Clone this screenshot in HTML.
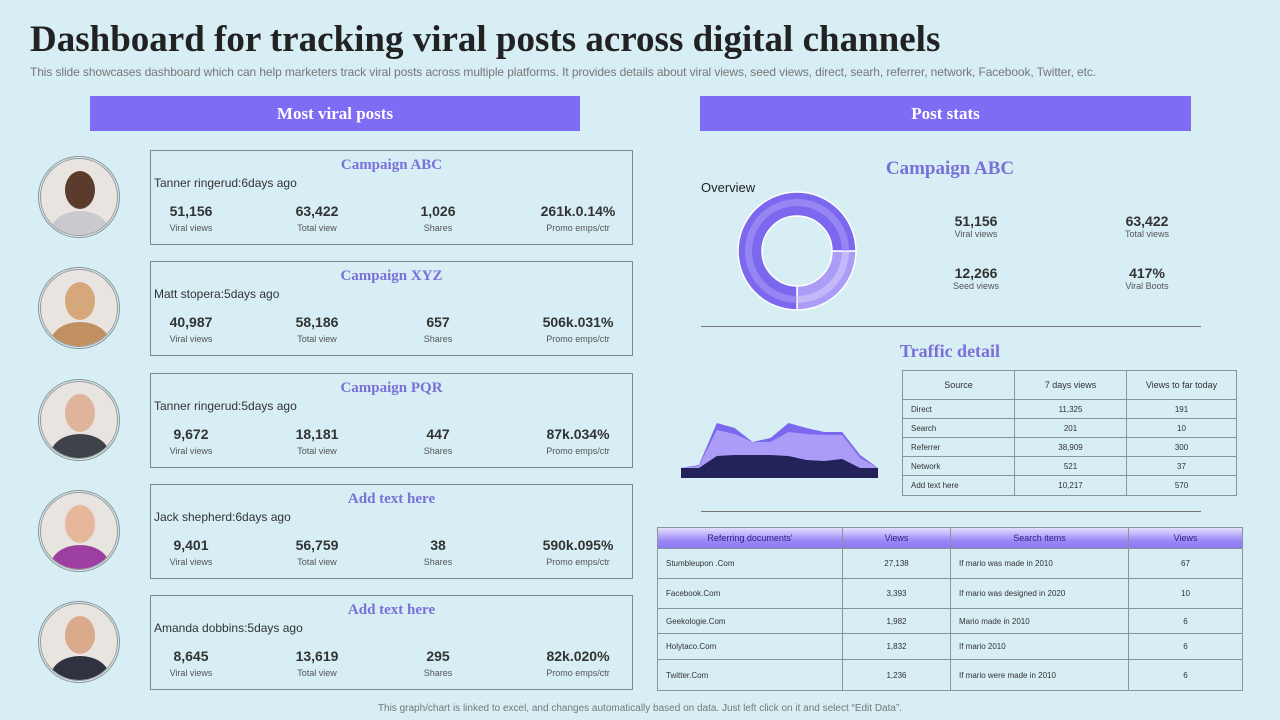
<!DOCTYPE html>
<html><head><meta charset="utf-8"><style>
body{margin:0;width:1280px;height:720px;background:#d6eef4;font-family:"Liberation Sans",sans-serif;position:relative;overflow:hidden;color:#333}
.a{position:absolute}
.hdr{background:#7f6cf5;color:#fff;font-family:"Liberation Serif",serif;font-weight:bold;font-size:17px;text-align:center;line-height:35px;height:35px}
.card{border:1px solid #7a8a8e;width:481px;height:93px}
.ct{position:absolute;left:0;right:0;top:6px;text-align:center;font-family:"Liberation Serif",serif;font-weight:bold;font-size:15px;color:#7b6fd8}
.nm{position:absolute;left:3px;top:25px;font-size:12px;color:#333}
.st{position:absolute;top:53px;width:120px;margin-left:-60px;text-align:center;line-height:15px}
.st b{display:block;font-size:14px;color:#333}
.st span{font-size:9px;color:#555}
.av{position:absolute;left:40px;width:78px;height:78px;border-radius:50%;overflow:hidden;background:#e8e4e0;border:1px solid #999;box-sizing:border-box}
.ring{position:absolute;left:38px;width:82px;height:82px;border-radius:50%;border:1px solid #8a9599;box-sizing:border-box}
table{border-collapse:collapse;position:absolute;font-size:8px;color:#333}
td{border:1px solid #8a9599;padding:0 0 0 8px}
td.c{text-align:center;padding:0}
.big{position:absolute;width:120px;margin-left:-60px;text-align:center;font-size:9px;color:#555}
.big b{display:block;font-size:14px;color:#333}
</style></head><body>
<div class="a" style="left:30px;top:18px;font-family:'Liberation Serif',serif;font-weight:bold;font-size:37px;color:#222">Dashboard for tracking viral posts across digital channels</div>
<div class="a" style="left:30px;top:65px;font-size:12px;color:#777;letter-spacing:-0.1px">This slide showcases dashboard which can help marketers track viral posts across multiple platforms. It provides details about viral views, seed views, direct, searh, referrer, network,  Facebook, Twitter, etc.</div>
<div class="a hdr" style="left:90px;top:96px;width:490px">Most viral posts</div>
<div class="a hdr" style="left:700px;top:96px;width:491px">Post stats</div>
<div id="cards"></div>

<div class="a" style="left:850px;top:158px;width:200px;text-align:center;font-family:'Liberation Serif',serif;font-weight:bold;font-size:19px;color:#7b6fd8">Campaign ABC</div>
<div class="a" style="left:701px;top:180px;font-size:13px;color:#222">Overview</div>
<svg class="a" style="left:730px;top:185px" width="135" height="135" id="donut"></svg>
<div class="big" style="left:976px;top:213px"><b>51,156</b>Viral views</div>
<div class="big" style="left:1147px;top:213px"><b>63,422</b>Total views</div>
<div class="big" style="left:976px;top:265px"><b>12,266</b>Seed views</div>
<div class="big" style="left:1147px;top:265px"><b>417%</b>Viral Boots</div>
<div class="a" style="left:701px;top:326px;width:500px;height:1px;background:#777"></div>
<div class="a" style="left:850px;top:341px;width:200px;text-align:center;font-family:'Liberation Serif',serif;font-weight:bold;font-size:18px;color:#7b6fd8">Traffic detail</div>
<svg class="a" style="left:670px;top:400px" width="220" height="90" id="area"></svg>
<table style="left:902px;top:370px;width:335px">
<tr style="height:29px"><td class="c" style="width:111px;font-size:9px">Source</td><td class="c" style="width:111px;font-size:9px">7 days views</td><td class="c" style="font-size:9px">Views to far today</td></tr>
<tr style="height:19px"><td>Direct</td><td class="c">11,325</td><td class="c">191</td></tr>
<tr style="height:19px"><td>Search</td><td class="c">201</td><td class="c">10</td></tr>
<tr style="height:19px"><td>Referrer</td><td class="c">38,909</td><td class="c">300</td></tr>
<tr style="height:19px"><td>Network</td><td class="c">521</td><td class="c">37</td></tr>
<tr style="height:20px"><td>Add text here</td><td class="c">10,217</td><td class="c">570</td></tr>
</table>
<div class="a" style="left:701px;top:511px;width:500px;height:1px;background:#777"></div>
<table style="left:657px;top:527px;width:586px">
<tr style="height:21px;background:linear-gradient(#e4defc,#9b88f7 60%,#8a76f2);color:#2a1f8a;font-size:9px"><td class="c" style="width:184px">Referring documents'</td><td class="c" style="width:107px">Views</td><td class="c" style="width:177px">Search items</td><td class="c">Views</td></tr>
<tr style="height:30px"><td>Stumbleupon .Com</td><td class="c">27,138</td><td>If mario was made  in 2010</td><td class="c">67</td></tr>
<tr style="height:30px"><td>Facebook.Com</td><td class="c">3,393</td><td>If mario was designed  in 2020</td><td class="c">10</td></tr>
<tr style="height:25px"><td>Geekologie.Com</td><td class="c">1,982</td><td>Mario made  in 2010</td><td class="c">6</td></tr>
<tr style="height:26px"><td>Holytaco.Com</td><td class="c">1,832</td><td>If mario 2010</td><td class="c">6</td></tr>
<tr style="height:31px"><td>Twitter.Com</td><td class="c">1,236</td><td>If mario were made  in 2010</td><td class="c">6</td></tr>
</table>
<div class="a" style="left:0;width:1280px;top:703px;text-align:center;font-size:10px;color:#777">This graph/chart is linked to excel, and changes automatically based on data. Just left click on it and select “Edit Data”.</div>

<script>
const posts=[
 ["Campaign ABC","Tanner ringerud:6days ago","51,156","63,422","1,026","261k.0.14%"],
 ["Campaign XYZ","Matt stopera:5days ago","40,987","58,186","657","506k.031%"],
 ["Campaign PQR","Tanner ringerud:5days ago","9,672","18,181","447","87k.034%"],
 ["Add text here","Jack shepherd:6days ago","9,401","56,759","38","590k.095%"],
 ["Add text here","Amanda dobbins:5days ago","8,645","13,619","295","82k.020%"]];
const statLabels=["Viral views","Total view","Shares","Promo emps/ctr"];
const colX=[40,166,287,427];
const avColors=[["#5a3b2c","#c9c9cf"],["#d7a77c","#c28f60"],["#e0b49a","#40424a"],["#e6b79a","#9d3fa0"],["#d9ab8c","#2f3340"]];
const wrap=document.getElementById('cards');
posts.forEach((p,i)=>{
  const top=150+i*111.3;
  const c=document.createElement('div');
  c.className='a card';c.style.left='150px';c.style.top=top+'px';
  
  
  let h='<div class="ct">'+p[0]+'</div><div class="nm">'+p[1]+'</div>';
  for(let k=0;k<4;k++)h+='<div class="st" style="left:'+colX[k]+'px"><b>'+p[2+k]+'</b><span>'+statLabels[k]+'</span></div>';
  c.innerHTML=h;wrap.appendChild(c);
  const r=document.createElement('div');r.className='ring';r.style.top=(top+6)+'px';
  
  
  wrap.appendChild(r);
  const a=document.createElement('div');a.className='av';a.style.top=(top+8)+'px';
  
  
  a.innerHTML='<div style="position:absolute;left:24px;top:12px;width:30px;height:38px;border-radius:50%;background:'+avColors[i][0]+'"></div><div style="position:absolute;left:10px;top:52px;width:58px;height:40px;border-radius:50% 50% 0 0;background:'+avColors[i][1]+'"></div>';
  wrap.appendChild(a);
});

// donut
const donutValues=[75,25];
const donutColors=["#7b68ee","#ab9cf7"];
const donutInner=["#9686f4","#c3b8fa"];
const ds=document.getElementById('donut');
const cx=67,cy=66,R=59,r=35;
function arc(a0,a1,ro,ri){
  const p=(a,rr)=>[cx+rr*Math.cos(a),cy+rr*Math.sin(a)];
  const lg=(a1-a0)>Math.PI?1:0;
  const [x0,y0]=p(a0,ro),[x1,y1]=p(a1,ro),[x2,y2]=p(a1,ri),[x3,y3]=p(a0,ri);
  return `M${x0} ${y0}A${ro} ${ro} 0 ${lg} 1 ${x1} ${y1}L${x2} ${y2}A${ri} ${ri} 0 ${lg} 0 ${x3} ${y3}Z`;
}
const tot=donutValues.reduce((a,b)=>a+b,0);
const order=[1,0];
let a0=0;
order.forEach(idx=>{
  const sweep=donutValues[idx]/tot*2*Math.PI;
  const a1=a0+sweep;
  const path=document.createElementNS('http://www.w3.org/2000/svg','path');
  path.setAttribute('d',arc(a0,a1,R,r));path.setAttribute('fill',donutColors[idx]);
  path.setAttribute('stroke','#fff');path.setAttribute('stroke-width','1.5');
  
  
  ds.appendChild(path);
  const band=document.createElementNS('http://www.w3.org/2000/svg','path');
  band.setAttribute('d',arc(a0+0.01,a1-0.01,R-7,R-14));band.setAttribute('fill',donutInner[idx]);
  
  
  ds.appendChild(band);
  a0=a1;
});

// area chart
const areaX=[0,1,2,3,4,5,6,7,8,9,10,11];
const seriesTop=[10,13,55,50,36,40,55,50,46,46,23,10];
const seriesMid=[10,12,48,44,36,36,46,44,43,43,20,10];
const seriesDark=[10,10,22,23,23,23,22,18,17,19,10,10];
const as=document.getElementById('area');
const xS=v=>11+v*(197/11), yS=v=>78-v;
function area(vals,fill,name){
  let d=`M${xS(areaX[0])} ${yS(0)}`;
  vals.forEach((v,i)=>d+=`L${xS(areaX[i])} ${yS(v)}`);
  d+=`L${xS(areaX[areaX.length-1])} ${yS(0)}Z`;
  const p=document.createElementNS('http://www.w3.org/2000/svg','path');
  p.setAttribute('d',d);p.setAttribute('fill',fill);
  
  
  as.appendChild(p);
}
area(seriesTop,"#7b68ee","area-series-top");
area(seriesMid,"#ab9cf7","area-series-mid");
area(seriesDark,"#23235a","area-series-dark");
</script>
</body></html>
